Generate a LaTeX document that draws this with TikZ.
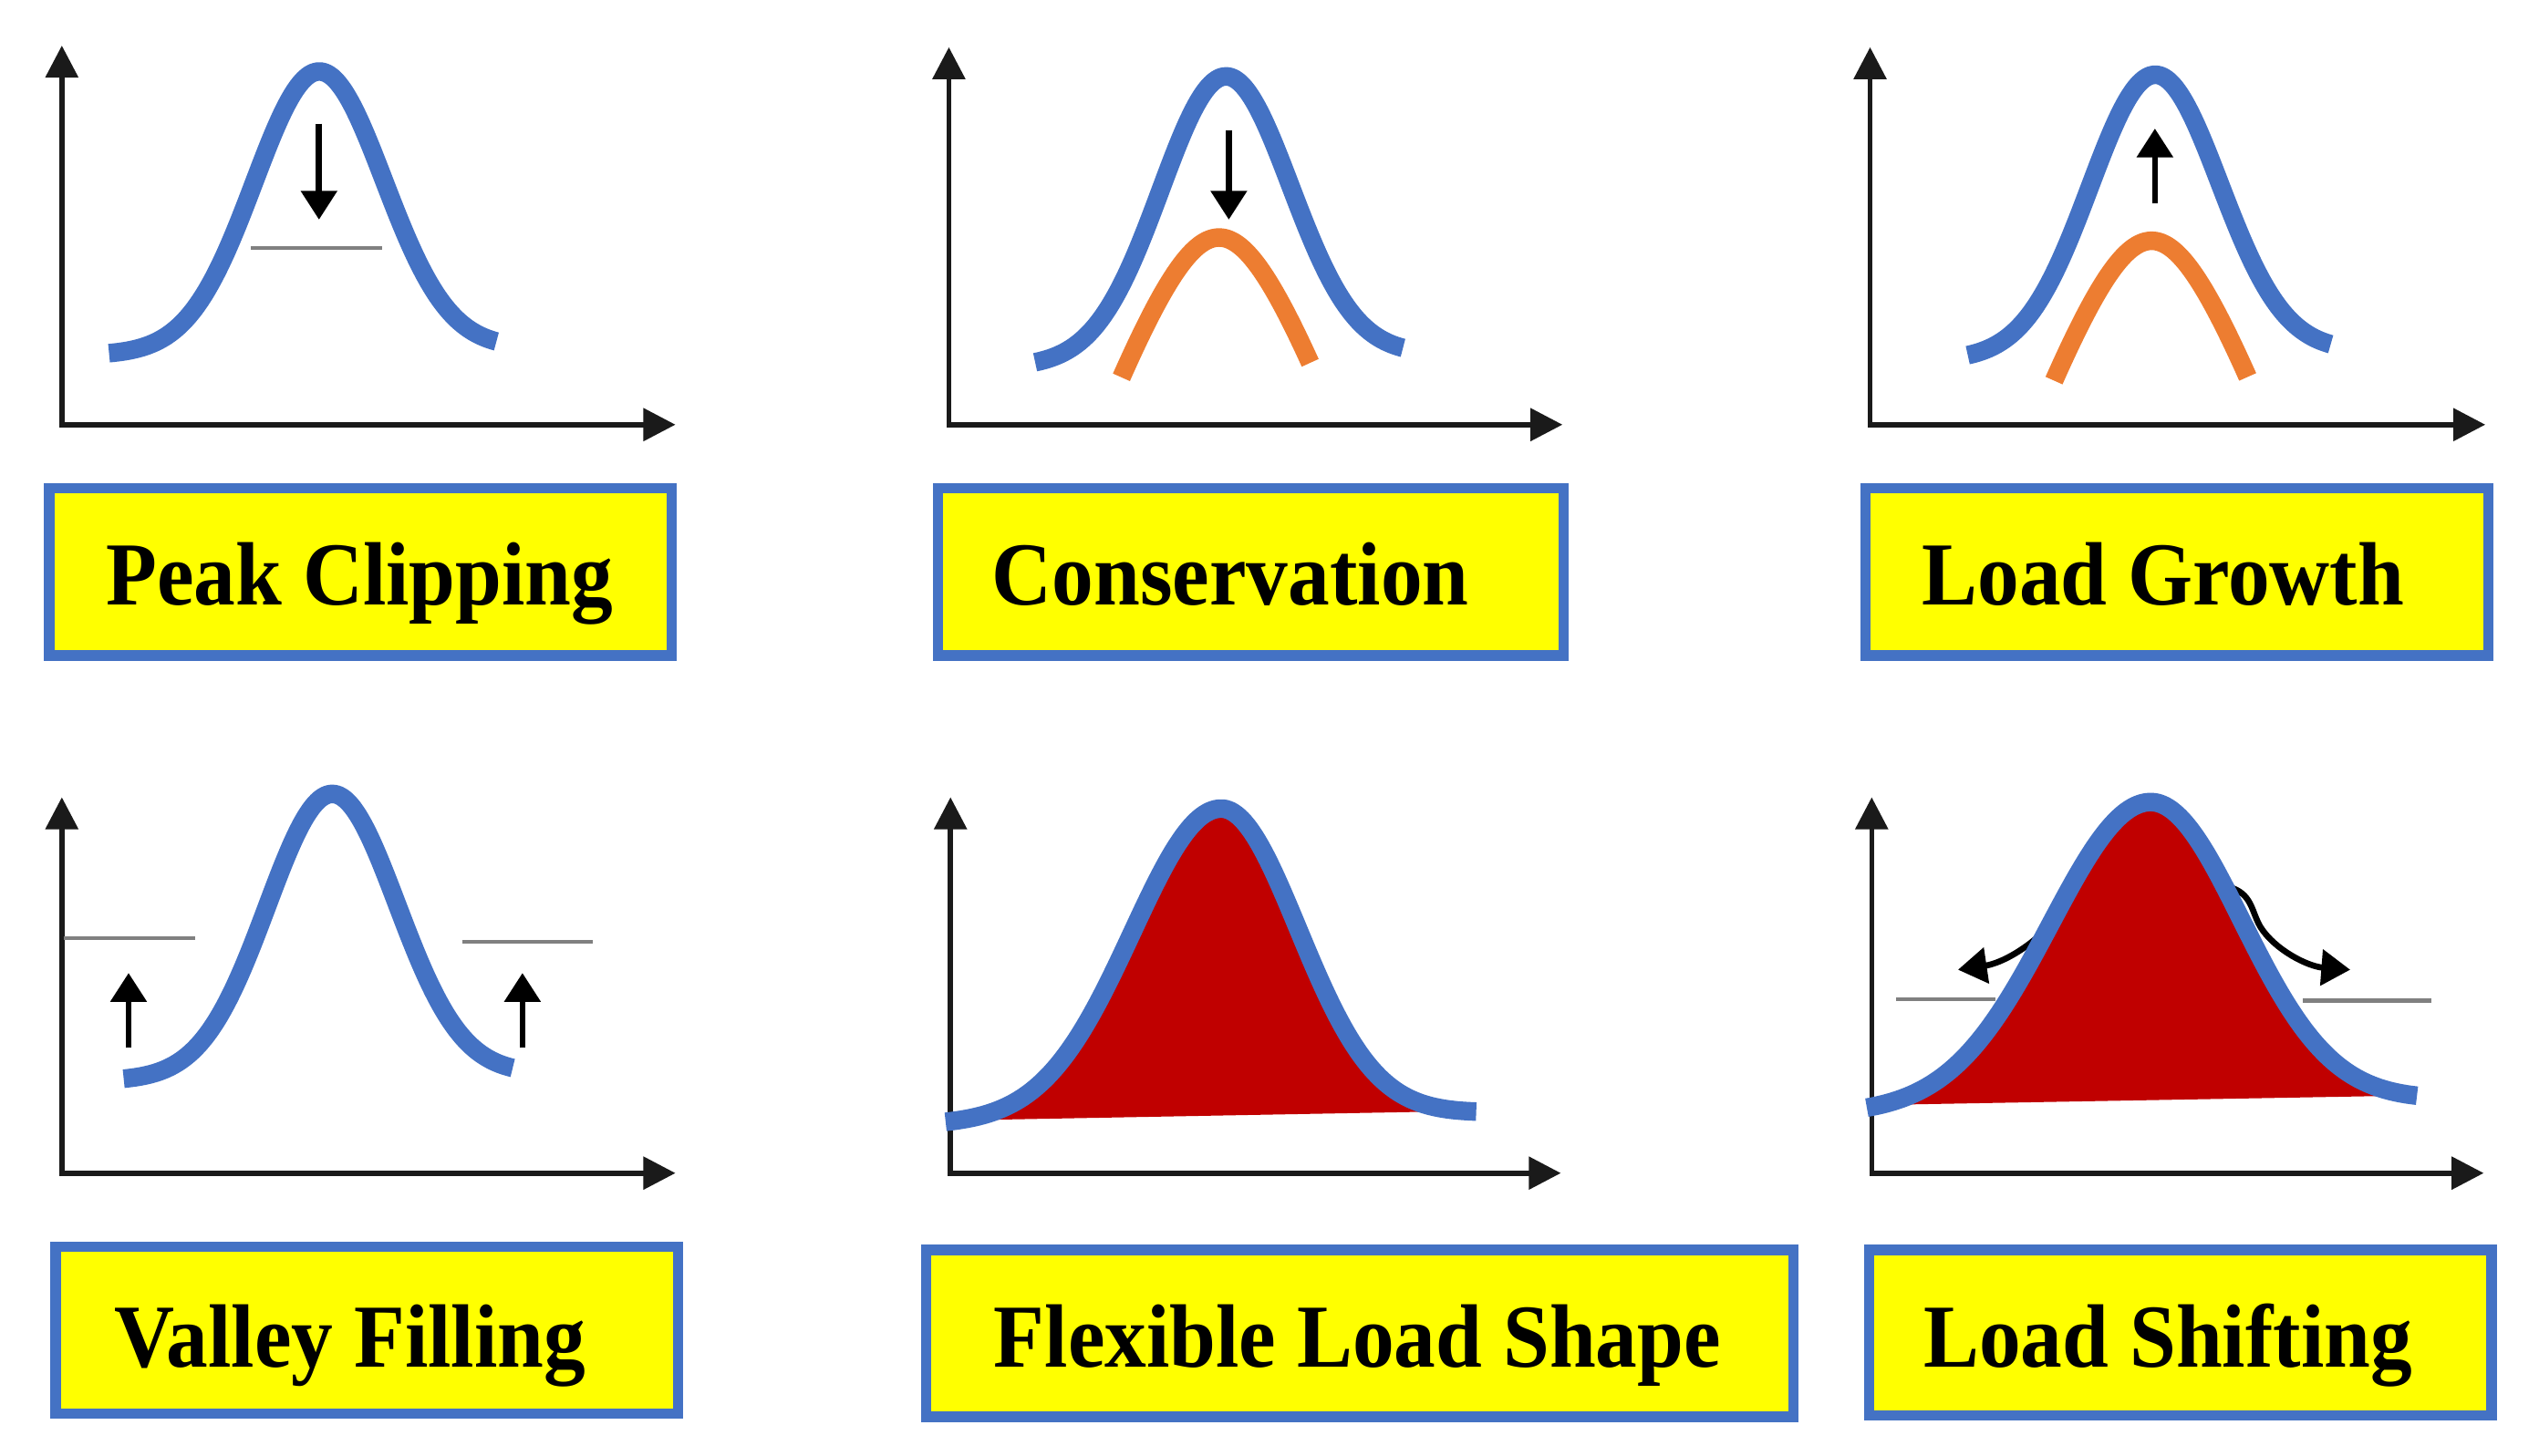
\documentclass[tikz,border=0pt]{standalone}
\usepackage{fontspec}
\setmainfont{Liberation Serif}
\usepackage{graphicx}
\usetikzlibrary{arrows.meta}
\definecolor{cblue}{HTML}{4472C4}
\definecolor{corange}{HTML}{ED7D31}
\definecolor{cred}{HTML}{C00000}
\definecolor{cyellow}{HTML}{FFFF00}
\definecolor{cgray}{HTML}{808080}
\definecolor{caxis}{HTML}{1A1A1A}
% bell curve: xL, yL, xR, yR, xpeak, ypeak, left half-width, right half-width (at half height)
\newcommand{\bellpath}[8]{plot[domain=#1:#3,samples=200] (\x,{#2+(\x-#1)*(#4-#2)/(#3-#1)-((#2+(#5-#1)*(#4-#2)/(#3-#1))-#6)*exp(-0.693147*((\x-#5)/ifthenelse(\x<#5,#7,#8))*((\x-#5)/ifthenelse(\x<#5,#7,#8)))})}
\newcommand{\lbltext}[1]{\scalebox{1}[1.08]{#1}}
\begin{document}
\begin{tikzpicture}[x=0.0178462cm,y=-0.0178462cm,
 axes/.style={line width=1.6pt,draw=caxis,{Triangle[length=10pt,width=10pt]}-{Triangle[length=10pt,width=10pt]},line join=miter},
 blueline/.style={line width=5.8pt,draw=cblue},
 orangeline/.style={line width=5.8pt,draw=corange},
 grayline/.style={line width=1.2pt,draw=cgray},
 smallarrow/.style={line width=1.9pt,draw=black,-{Triangle[length=9pt,width=11pt]}},
 labelbox/.style={draw=cblue,line width=3.2pt,fill=cyellow,inner sep=0pt,outer sep=0pt},
 labeltext/.style={anchor=base,inner sep=0pt,font=\fontsize{26}{30}\selectfont\bfseries}]
\fill[white] (0,0) rectangle (1560,894.6);
\useasboundingbox (0,0) rectangle (1560,894.6);

% ---------- Panel 1: Peak Clipping ----------
\draw[axes] (38,28) -- (38,261) -- (415,261);
\draw[blueline] \bellpath{67}{218}{305}{214}{196}{44}{47}{47};
\draw[grayline] (154,152.5) -- (235,152.5);
\draw[smallarrow] (196,76) -- (196,135);
\node[labelbox,minimum width=6.830cm,minimum height=1.833cm] (box1) at (221.5,351.5) {};
\node[labeltext] (txt1) at (221,372) {\lbltext{Peak Clipping}};

% ---------- Panel 2: Conservation ----------
\draw[axes] (583,29) -- (583,261) -- (960,261);
\draw[blueline] \bellpath{636}{225}{862}{218}{753}{47}{47}{47};
\draw[orangeline] plot[domain=689:805,samples=100] (\x,{146+2.75*(sqrt((\x-749)*(\x-749)+1764)-42)});
\draw[smallarrow] (755,80) -- (755,135);
\node[labelbox,minimum width=6.865cm,minimum height=1.833cm] (box2) at (768.5,351.5) {};
\node[labeltext] (txt2) at (756,372) {\lbltext{Conservation}};

% ---------- Panel 3: Load Growth ----------
\draw[axes] (1149,29) -- (1149,261) -- (1527,261);
\draw[blueline] \bellpath{1209}{221}{1432}{216}{1324}{46}{47}{47};
\draw[orangeline] plot[domain=1262:1381,samples=100] (\x,{148+2.75*(sqrt((\x-1322)*(\x-1322)+1764)-42)});
\draw[smallarrow] (1324,125) -- (1324,79);
\node[labelbox,minimum width=6.830cm,minimum height=1.833cm] (box3) at (1337.5,351.5) {};
\node[labeltext] (txt3) at (1329,372) {\lbltext{Load Growth}};

% ---------- Panel 4: Valley Filling ----------
\draw[axes] (38,490) -- (38,721) -- (415,721);
\draw[grayline] (39,576.5) -- (120,576.5);
\draw[grayline] (284,579) -- (364,579);
\draw[blueline] \bellpath{76}{664}{315}{660}{204}{488}{47}{47};
\draw[smallarrow] (79,644) -- (79,598);
\draw[smallarrow] (321,644) -- (321,598);
\node[labelbox,minimum width=6.830cm,minimum height=1.833cm] (box4) at (225.5,817.5) {};
\node[labeltext] (txt4) at (215,840) {\lbltext{Valley Filling}};

% ---------- Panel 5: Flexible Load Shape ----------
\draw[axes] (584,490) -- (584,721) -- (959,721);
\begin{scope}
  \clip (560,689.1) -- (560,450) -- (930,450) -- (930,682.3) -- cycle;
  \fill[cred] \bellpath{581}{691}{907}{684}{750}{497}{64}{56} -- cycle;
\end{scope}
\draw[blueline] \bellpath{581}{691}{907}{684}{750}{497}{64}{56};
\node[labelbox,minimum width=9.507cm,minimum height=1.833cm] (box5) at (835.5,819.5) {};
\node[labeltext] (txt5) at (834,840) {\lbltext{Flexible Load Shape}};

% ---------- Panel 6: Load Shifting ----------
\draw[axes] (1150,490) -- (1150,721) -- (1526,721);
\draw[grayline] (1165,614) -- (1226,614);
\draw[grayline] (1415,615) -- (1494,615);
\draw[smallarrow] (1262,566) .. controls (1248,582) and (1230,592) .. (1203,596);
\draw[smallarrow] (1369,545) .. controls (1384,549) and (1383,560) .. (1389,570) .. controls (1398,584) and (1418,594) .. (1444,596);
\begin{scope}
  \clip (1130,679.55) -- (1130,450) -- (1510,450) -- (1510,672.79) -- cycle;
  \fill[cred] \bellpath{1147}{684}{1485}{676}{1321}{493}{72}{66} -- cycle;
\end{scope}
\draw[blueline] \bellpath{1147}{684}{1485}{676}{1321}{493}{72}{66};
\node[labelbox,minimum width=6.830cm,minimum height=1.815cm] (box6) at (1339.5,819) {};
\node[labeltext] (txt6) at (1332,840) {\lbltext{Load Shifting}};
\end{tikzpicture}
\end{document}
